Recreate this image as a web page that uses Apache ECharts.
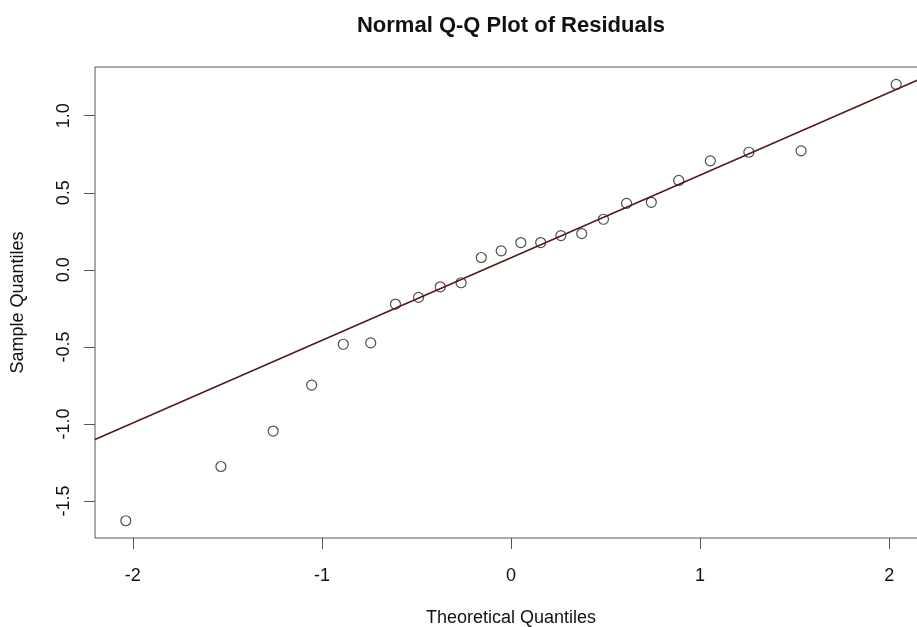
<!DOCTYPE html>
<html>
<head>
<meta charset="utf-8">
<title>Normal Q-Q Plot of Residuals</title>
<script src="https://cdn.jsdelivr.net/npm/echarts@6/dist/echarts.min.js"></script>
<style>
  html, body { margin: 0; padding: 0; background: #fff; }
  #chart { width: 917px; height: 627px; }
</style>
</head>
<body>
<div id="chart"></div>
<script>
// theoretical normal quantiles (x) and sorted residuals (y)
const theoretical = [-2.037, -1.534, -1.258, -1.054, -0.887, -0.742, -0.611, -0.489, -0.374, -0.264, -0.157, -0.052,
  0.052, 0.157, 0.264, 0.374, 0.489, 0.611, 0.742, 0.887, 1.054, 1.258, 1.534, 2.037]
const sample = [-1.628, -1.276, -1.046, -0.748, -0.483, -0.474, -0.222, -0.179, -0.110, -0.084, 0.080, 0.123,
  0.177, 0.177, 0.222, 0.235, 0.328, 0.431, 0.438, 0.580, 0.707, 0.763, 0.772, 1.203]

// qq line (through the quartiles)
const lineSlope = 0.536
const lineIntercept = 0.078

const xTicks = [-2, -1, 0, 1, 2]
const yTicks = [-1.5, -1.0, -0.5, 0.0, 0.5, 1.0]
const xRange = [-2.2, 2.2]
const yRange = [-1.74, 1.316]

const font = '"Liberation Sans", Arial, Helvetica, sans-serif'

const points = theoretical.map((q, i) => [q, sample[i]])
const qqLine = xRange.map(x => [x, lineIntercept + lineSlope * x])

const chart = echarts.init(document.getElementById('chart'))
chart.setOption({
  animation: false,
  backgroundColor: '#fff',
  textStyle: { fontFamily: font },
  title: {
    text: 'Normal Q-Q Plot of Residuals',
    left: 506,
    top: 10,
    textAlign: 'center',
    textStyle: { fontSize: 22, fontWeight: 'bold', color: '#111', fontFamily: font }
  },
  grid: {
    left: 95,
    top: 67,
    width: 832,
    height: 471,
    outerBoundsMode: 'none', // plot box runs past the right edge, like the original
    show: true,
    borderColor: '#555',
    borderWidth: 1,
    backgroundColor: 'transparent'
  },
  xAxis: {
    type: 'value',
    min: xRange[0],
    max: xRange[1],
    name: 'Theoretical Quantiles',
    nameLocation: 'middle',
    nameGap: 71,
    nameTextStyle: { fontSize: 18, color: '#111', fontFamily: font },
    axisLine: { show: false, onZero: false },
    splitLine: { show: false },
    axisTick: { show: true, length: 11, customValues: xTicks, lineStyle: { color: '#555' } },
    axisLabel: {
      customValues: xTicks,
      margin: 29,
      fontSize: 18,
      color: '#111',
      fontFamily: font
    }
  },
  yAxis: {
    type: 'value',
    min: yRange[0],
    max: yRange[1],
    name: 'Sample Quantiles',
    nameLocation: 'middle',
    nameGap: 68,
    nameTextStyle: { fontSize: 18, color: '#111', fontFamily: font },
    axisLine: { show: false, onZero: false },
    splitLine: { show: false },
    axisTick: { show: true, length: 11, customValues: yTicks, lineStyle: { color: '#555' } },
    axisLabel: {
      customValues: yTicks,
      rotate: 90,
      margin: 22,
      fontSize: 18,
      color: '#111',
      fontFamily: font,
      formatter: v => v.toFixed(1)
    }
  },
  series: [
    {
      type: 'scatter',
      data: points,
      symbol: 'circle',
      symbolSize: 10,
      itemStyle: { color: 'rgba(0,0,0,0)', borderColor: '#222', borderWidth: 1.2 }
    },
    {
      type: 'line',
      data: qqLine,
      showSymbol: false,
      lineStyle: { color: '#551818', width: 1.5 }
    }
  ]
})
</script>
</body>
</html>
